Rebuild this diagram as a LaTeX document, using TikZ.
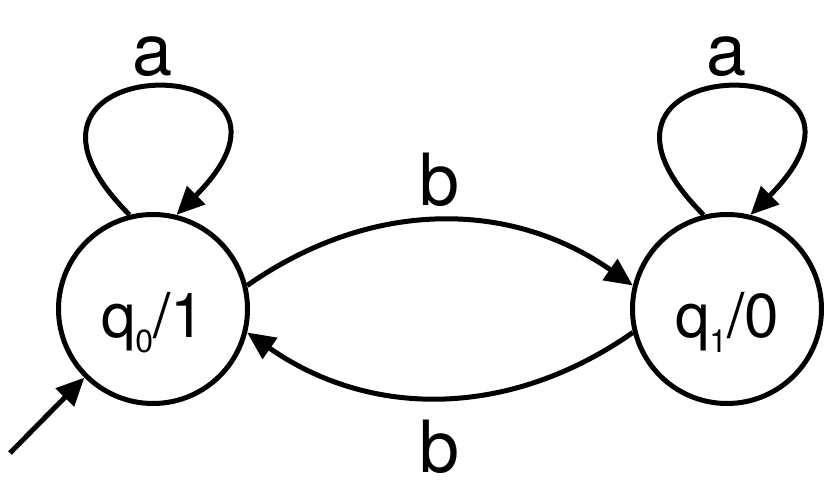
\documentclass[tikz,border=0pt]{standalone}
\usepackage{fontspec}
\setmainfont{TeX Gyre Heros}
\usetikzlibrary{arrows.meta}
\tikzset{
  state/.style={draw,circle,line width=5pt,minimum size=189pt,inner sep=0pt,
    font=\fontsize{62}{62}\selectfont,text height=58pt,text depth=0pt},
  edgelabel/.style={font=\fontsize{72}{72}\selectfont,inner sep=0pt},
  arc/.style={-{Triangle[length=28pt,width=25pt]},line width=5pt},
}
\newcommand{\statesub}[1]{\raisebox{-15pt}{\fontsize{32}{32}\selectfont #1}}
\begin{document}
\begin{tikzpicture}[x=1pt,y=1pt]
\useasboundingbox(0,0)rectangle(830,495);
\node[state](q0)at(153,186){q\statesub{0}/1};%初期状態
\node[state](q1)at(727,186){q\statesub{1}/0};
\coordinate(start)at(10,42);
\draw[arc](start)--(q0.225);%開始矢印
\draw[arc](q0.14)to[out=35,in=145]node[edgelabel,midway,above=12pt]{b}(q1.166);%q0→q1
\draw[arc](q1.194)to[out=215,in=325]node[edgelabel,midway,below=20pt]{b}(q0.346);%q1→q0
\draw[arc](q0.104)..controls+(135:240)and+(45:240)..node[edgelabel,pos=0.5,above=9pt]{a}(q0.76);%ループ
\draw[arc](q1.104)..controls+(135:240)and+(45:240)..node[edgelabel,pos=0.5,above=9pt]{a}(q1.76);
\end{tikzpicture}
\end{document}
